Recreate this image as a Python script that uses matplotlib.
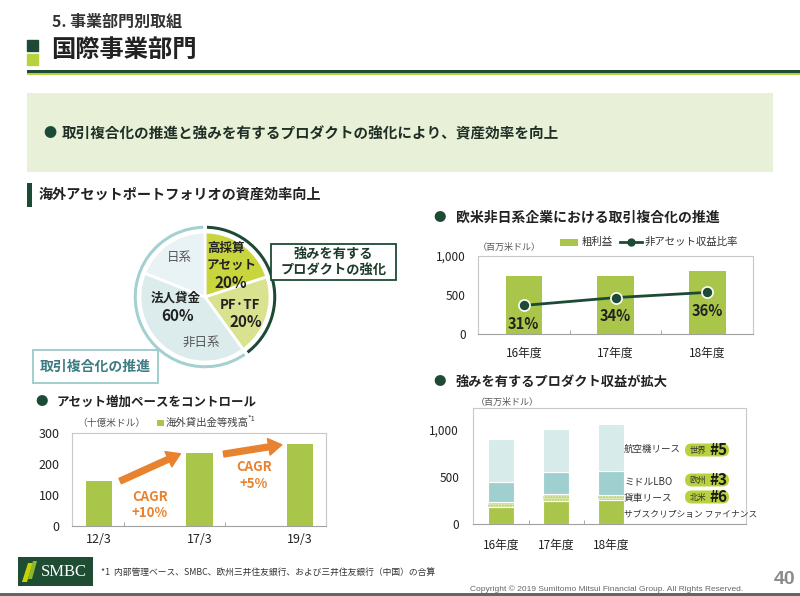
import numpy as np
import matplotlib
matplotlib.use("Agg")
import matplotlib.pyplot as plt
from matplotlib.patches import Rectangle, FancyBboxPatch, Polygon

plt.rcParams['font.family'] = ['Noto Sans CJK JP', 'DejaVu Sans']

# ---------------- data ----------------
pie_labels = ["高採算アセット", "PF·TF", "非日系", "日系"]
pie_values = [20, 20, 41, 19]
group_labels = ["強みを有するプロダクトの強化", "取引複合化の推進"]
corp_loan_share = 60

loan_cats = ["12/3", "17/3", "19/3"]
loan_values = [145, 237, 263]
loan_ticks = [0, 100, 200, 300]
cagr_labels = ["CAGR\n+10%", "CAGR\n+5%"]

gp_cats = ["16年度", "17年度", "18年度"]
gp_values = [750, 740, 805]
nonasset_ratio = [0.31, 0.34, 0.36]
gp_ticks = [0, 500, 1000]
gp_tick_labels = ["0", "500", "1,000"]

prod_cats = ["16年度", "17年度", "18年度"]
prod_series = ["サブスクリプション ファイナンス", "貨車リース", "ミドルLBO", "航空機リース"]
subscription = [180, 240, 250]
railcar = [50, 73, 56]
middle_lbo = [217, 240, 257]
aircraft = [453, 452, 490]
prod_ticks = [0, 500, 1000]
prod_tick_labels = ["0", "500", "1,000"]
rank_region = ["世界", "欧州", "北米"]
rank_value = ["#5", "#3", "#6"]

# ---------------- style ----------------
W, H = 800, 596
DARK = "#1d4a35"
LIME = "#a9c64a"
LIME2 = "#b8d23e"
ORANGE = "#e8822e"
TEAL = "#a3d0d0"
TXT = "#222222"

fig = plt.figure(figsize=(8, 5.96), dpi=100)
fig.patch.set_facecolor("white")


def rect(x0, y0, x1, y1):
    return [x0 / W, 1 - y1 / H, (x1 - x0) / W, (y1 - y0) / H]


# ---------------- pie ----------------
cx, cy, r_pie = 205, 297, 65
half = 1.25 * r_pie
axp = fig.add_axes(rect(cx - half, cy - half, cx + half, cy + half))
axp.set_aspect("equal")
axp.axis("off")
pie_colors = ["#c9d53c", "#d9e38f", "#dcecec", "#e9f2f4"]
axp.pie(pie_values, colors=pie_colors, startangle=90, counterclock=False,
        radius=1.0, wedgeprops=dict(edgecolor="white", linewidth=2))
ring_values = [sum(pie_values[:2]), sum(pie_values[2:])]
axp.pie(ring_values, colors=[DARK, TEAL], startangle=90, counterclock=False,
        radius=73 / 65, wedgeprops=dict(width=6.5 / 65, edgecolor="white", linewidth=2.5))
axp.set_xlim(-1.25, 1.25)
axp.set_ylim(-1.25, 1.25)

# ---------------- bottom-left bars ----------------
ax1 = fig.add_axes(rect(72, 433, 326, 526))
x1 = np.arange(len(loan_cats))
ax1.bar(x1, loan_values, width=0.26, color=LIME)
ax1.set_xlim(-0.27, 2.26)
ax1.set_ylim(0, 300)
ax1.set_yticks(loan_ticks)
ax1.set_yticklabels([str(t) for t in loan_ticks], fontsize=9, color=TXT)
ax1.set_xticks(x1)
ax1.set_xticklabels(loan_cats, fontsize=9, color=TXT)
ax1.set_xticks([0.245, 1.25], minor=True)
ax1.tick_params(axis="y", length=0, pad=9)
ax1.tick_params(axis="x", which="major", length=0, pad=5)
ax1.tick_params(axis="x", which="minor", length=3, direction="in", color="#999999")
for s in ax1.spines.values():
    s.set_color("#c8c8c8")
ax1.spines["bottom"].set_color("#a0a0a0")
arrow_style = "simple,head_length=0.95,head_width=1.2,tail_width=0.42"
ax1.annotate("", xy=(0.81, 233), xytext=(0.21, 145),
             arrowprops=dict(arrowstyle=arrow_style, mutation_scale=10, color=ORANGE,
                             shrinkA=0, shrinkB=0))
ax1.annotate("", xy=(1.82, 262), xytext=(1.24, 232),
             arrowprops=dict(arrowstyle=arrow_style, mutation_scale=10, color=ORANGE,
                             shrinkA=0, shrinkB=0))

# ---------------- top-right bars + line ----------------
ax2 = fig.add_axes(rect(478, 256, 753, 334))
x2 = np.arange(len(gp_cats))
ax2.bar(x2, gp_values, width=0.4, color=LIME)
ax2.set_xlim(-0.5, 2.5)
ax2.set_ylim(0, 1000)
ax2.set_yticks(gp_ticks)
ax2.set_yticklabels(gp_tick_labels, fontsize=8.5, color=TXT)
ax2.set_xticks(x2)
ax2.set_xticklabels(gp_cats, fontsize=8.5, color=TXT)
ax2.set_xticks([0.5, 1.5], minor=True)
ax2.tick_params(axis="y", length=0, pad=9)
ax2.tick_params(axis="x", which="major", length=0, pad=9)
ax2.tick_params(axis="x", which="minor", length=3, direction="in", color="#999999")
for s in ax2.spines.values():
    s.set_color("#c8c8c8")
ax2.spines["bottom"].set_color("#a0a0a0")
tw = ax2.twinx()
tw.set_ylim(0.20, 0.50)
tw.plot(x2, nonasset_ratio, color=DARK, lw=2, marker="o", ms=8,
        mfc=DARK, mec="white", mew=1.2, zorder=5)
tw.axis("off")
for xi, rv in zip(x2, nonasset_ratio):
    tw.annotate(f"{round(rv * 100)}%", (xi, rv), xytext=(0, -13.5),
                textcoords="offset points", ha="center", va="center",
                fontsize=10.5, fontweight="bold", color=TXT)

# ---------------- bottom-right stacked ----------------
ax3 = fig.add_axes(rect(473, 408, 746, 524))
x3 = np.arange(len(prod_cats))
bw = 0.47
b0 = np.zeros(3)
ax3.bar(x3, subscription, width=bw, bottom=b0, color=LIME, edgecolor="white", lw=0.8)
b1 = b0 + np.array(subscription)
ax3.bar(x3, railcar, width=bw, bottom=b1, color="#dde9b3", edgecolor="white", lw=0.8)
ax3.bar(x3, railcar, width=bw, bottom=b1, facecolor="none", edgecolor="#b4cc6c",
        hatch="......", lw=0)
b2 = b1 + np.array(railcar)
ax3.bar(x3, middle_lbo, width=bw, bottom=b2, color="#9fcfcf", edgecolor="white", lw=0.8)
b3 = b2 + np.array(middle_lbo)
ax3.bar(x3, aircraft, width=bw, bottom=b3, color="#d7ebeb", edgecolor="white", lw=0.8)
ax3.set_xlim(-0.51, 4.45)
ax3.set_ylim(0, 1225)
ax3.set_yticks(prod_ticks)
ax3.set_yticklabels(prod_tick_labels, fontsize=8.5, color=TXT)
ax3.set_xticks(x3)
ax3.set_xticklabels(prod_cats, fontsize=8.5, color=TXT)
ax3.set_xticks([0.5, 1.5], minor=True)
ax3.tick_params(axis="y", length=0, pad=10)
ax3.tick_params(axis="x", which="major", length=0, pad=11)
ax3.tick_params(axis="x", which="minor", length=3, direction="in", color="#999999")
for s in ax3.spines.values():
    s.set_color("#c8c8c8")
ax3.spines["bottom"].set_color("#a0a0a0")

# ---------------- overlay (texts / shapes in pixel coords) ----------------
ov = fig.add_axes([0, 0, 1, 1], zorder=10)
ov.set_xlim(0, W)
ov.set_ylim(H, 0)
ov.axis("off")

# header
ov.text(52, 22, "5. 事業部門別取組", fontsize=11.5, fontweight="bold", color="#333333", va="center")
ov.text(51, 50, "国際事業部門", fontsize=17.5, fontweight="bold", color=TXT, va="center")
ov.add_patch(Rectangle((27, 40), 11, 11, color=DARK))
ov.add_patch(Rectangle((27, 54), 11, 11, color=LIME2))
ov.add_patch(Rectangle((27, 69.5), W - 27, 3.5, color=DARK, lw=0))
ov.add_patch(Rectangle((27, 73), W - 27, 2, color=LIME2, lw=0))

# banner
ov.add_patch(Rectangle((27, 93), 746, 79, color="#e8f0d8", lw=0))
ov.text(43, 133, "●", fontsize=9.5, color=DARK, va="center")
ov.text(62, 133, "取引複合化の推進と強みを有するプロダクトの強化により、資産効率を向上",
        fontsize=10.5, fontweight="bold", color="#1f2f25", va="center")

# pie section
ov.add_patch(Rectangle((27, 183), 4.5, 24, color=DARK, lw=0))
ov.text(39, 195, "海外アセットポートフォリオの資産効率向上", fontsize=10.2,
        fontweight="bold", color=TXT, va="center")
ov.text(207, 248, "高採算", fontsize=9, fontweight="bold", color=TXT, va="center")
ov.text(207, 265, "アセット", fontsize=9, fontweight="bold", color=TXT, va="center")
ov.text(231, 283, f"{pie_values[0]}%", fontsize=11, fontweight="bold", color=TXT,
        va="center", ha="center")
ov.text(240, 305, pie_labels[1], fontsize=9.5, fontweight="bold", color=TXT, va="center", ha="center")
ov.text(246, 322, f"{pie_values[1]}%", fontsize=11, fontweight="bold", color=TXT,
        va="center", ha="center")
ov.text(176, 298, "法人貸金", fontsize=9, fontweight="bold", color=TXT, va="center", ha="center")
ov.text(178, 316, f"{corp_loan_share}%", fontsize=11, fontweight="bold", color=TXT,
        va="center", ha="center")
ov.text(179, 258, pie_labels[3], fontsize=9, color="#555555", va="center", ha="center")
ov.text(201, 342, pie_labels[2], fontsize=9, color="#555555", va="center", ha="center")

ov.add_patch(Rectangle((271, 244), 125, 36, facecolor="white", edgecolor=DARK, lw=1.3))
ov.text(333.5, 254, "強みを有する", fontsize=9.5, fontweight="bold", color="#1c3a2a",
        va="center", ha="center")
ov.text(333.5, 270, "プロダクトの強化", fontsize=9.5, fontweight="bold", color="#1c3a2a",
        va="center", ha="center")
ov.add_patch(Rectangle((33, 350), 125, 33, facecolor="white", edgecolor="#9bcaca", lw=1.3))
ov.text(95.5, 367, group_labels[1], fontsize=10, fontweight="bold", color="#3b7c82",
        va="center", ha="center")

# bottom-left section
ov.text(35, 402, "●", fontsize=9, color=DARK, va="center")
ov.text(57, 402, "アセット増加ペースをコントロール", fontsize=9, fontweight="bold",
        color=TXT, va="center")
ov.text(77, 423, "（十億米ドル）", fontsize=7, color="#555555", va="center")
ov.add_patch(Rectangle((157, 419.5), 6.5, 6.5, color=LIME, lw=0))
ov.text(166, 423, "海外貸出金等残高", fontsize=7.5, color="#444444", va="center")
ov.text(248, 419, "*1", fontsize=5.5, color="#444444", va="center")
ov.text(150, 497, cagr_labels[0].split("\n")[0], fontsize=9.5, fontweight="bold",
        color=ORANGE, va="center", ha="center")
ov.text(150, 513, cagr_labels[0].split("\n")[1], fontsize=9.5, fontweight="bold",
        color=ORANGE, va="center", ha="center")
ov.text(254, 467, cagr_labels[1].split("\n")[0], fontsize=9.5, fontweight="bold",
        color=ORANGE, va="center", ha="center")
ov.text(254, 484, cagr_labels[1].split("\n")[1], fontsize=9.5, fontweight="bold",
        color=ORANGE, va="center", ha="center")

# top-right section
ov.text(433, 218, "●", fontsize=9, color=DARK, va="center")
ov.text(456, 218, "欧米非日系企業における取引複合化の推進", fontsize=10, fontweight="bold",
        color=TXT, va="center")
ov.text(478, 247, "（百万米ドル）", fontsize=6.5, color="#555555", va="center")
ov.add_patch(Rectangle((560, 238.5), 18, 7, color=LIME, lw=0))
ov.text(582, 242, "粗利益", fontsize=7.5, color="#333333", va="center")
ov.plot([620, 642], [242, 242], color=DARK, lw=2)
ov.plot([631], [242], marker="o", ms=5, color=DARK)
ov.text(645, 242, "非アセット収益比率", fontsize=7.5, color="#333333", va="center")

# bottom-right section
ov.text(433, 382, "●", fontsize=9, color=DARK, va="center")
ov.text(456, 382, "強みを有するプロダクト収益が拡大", fontsize=9.5, fontweight="bold",
        color=TXT, va="center")
ov.text(476, 402, "（百万米ドル）", fontsize=6.5, color="#555555", va="center")
series_y = [515, 498, 481, 449]
series_fs = [6.3, 7, 7, 6.8]
for name, yy, fs in zip(prod_series, series_y, series_fs):
    ov.text(624, yy, name, fontsize=fs, color="#333333", va="center")
badge_y = [450, 480, 497]
for reg, val, yy in zip(rank_region, rank_value, badge_y):
    ov.add_patch(FancyBboxPatch((685, yy - 6.5), 44, 13,
                                boxstyle="round,pad=0,rounding_size=6.5",
                                facecolor=LIME2, edgecolor="none"))
    ov.text(698, yy + 0.5, reg, fontsize=6, color="#333333", va="center", ha="center")
    ov.text(718, yy, val, fontsize=11, fontweight="bold", color="#1a1a1a",
            va="center", ha="center")

# footer
ov.add_patch(Rectangle((18, 557), 75, 29, color="#1f4d33", lw=0))
ov.add_patch(Polygon([(22, 582), (27, 582), (33, 563), (28, 563)], closed=True,
                     color="#c7d300", lw=0))
ov.add_patch(Polygon([(28, 579), (32, 579), (37, 561), (33, 561)], closed=True,
                     color="#8fb52a", lw=0))
ov.text(64, 572, "SMBC", fontsize=12, color="white", va="center", ha="center",
        family=["Liberation Serif", "DejaVu Serif"])
ov.text(101, 572, "*1  内部管理ベース、SMBC、欧州三井住友銀行、および三井住友銀行（中国）の合算",
        fontsize=6.3, color="#333333", va="center")
ov.text(743, 589, "Copyright © 2019 Sumitomo Mitsui Financial Group. All Rights Reserved.",
        fontsize=6, color="#666666", va="center", ha="right",
        family=["Liberation Sans", "DejaVu Sans"])
ov.text(795, 579, "40", fontsize=14, fontweight="bold", color="#8a8a8a", va="center",
        ha="right", family=["Liberation Sans", "DejaVu Sans"])
ov.add_patch(Rectangle((0, 593), W, 2.5, color="#666666", lw=0))

fig.savefig("out.png", dpi=100)
